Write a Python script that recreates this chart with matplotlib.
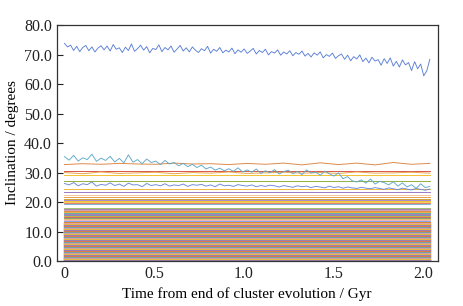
import numpy as np
import matplotlib
matplotlib.use("Agg")
import matplotlib.pyplot as plt

T_END = 2.037

# Noisy high-inclination series
top_line = [73.8,72.6,73.2,71.4,72.8,71.0,72.4,73.1,71.3,72.6,
            70.9,72.2,73.0,71.6,72.9,71.2,73.4,71.8,72.3,70.7,
            72.5,71.4,73.6,71.1,72.0,73.2,71.5,72.7,70.6,72.1,
            71.7,73.3,71.0,72.4,71.6,72.9,70.8,71.9,73.1,71.2,
            72.3,70.9,72.6,71.5,70.7,72.0,71.3,72.8,70.5,71.8,
            71.1,72.4,70.6,71.5,70.9,72.2,70.3,71.6,70.8,71.9,
            70.4,71.2,72.1,70.2,71.4,70.7,71.8,69.9,71.0,70.5,
            71.6,69.8,70.9,70.2,71.3,69.6,70.7,70.1,71.2,69.5,
            70.4,69.2,70.6,69.8,70.9,68.9,70.0,69.4,70.5,68.7,
            69.6,70.2,68.4,69.8,67.9,69.3,68.5,69.9,67.6,68.8,
            67.2,69.1,67.8,68.3,66.4,68.6,67.0,68.9,66.1,67.7,
            65.8,68.2,66.5,67.3,64.6,67.6,65.2,66.8,62.8,64.5,68.4]

second_line = [35.4,34.2,35.8,33.9,35.0,34.4,36.2,33.8,34.9,34.1,35.5,
               33.6,34.8,33.3,36.0,33.5,34.4,33.0,34.6,33.4,33.9,
               32.7,34.1,32.9,33.4,32.3,33.1,32.0,32.8,31.7,32.5,
               31.2,31.9,30.8,31.5,30.6,31.3,30.4,31.6,30.2,30.9,
               30.1,31.2,29.7,30.6,29.9,31.0,29.5,30.3,30.8,29.6,
               30.4,29.3,30.9,29.8,30.2,29.1,30.5,29.6,28.8,29.9,
               27.9,28.6,27.2,26.8,27.5,26.4,27.8,26.1,27.0,26.6,
               25.8,26.9,25.4,26.5,25.1,25.9,24.6,26.2,24.9,25.3]

third_line = [26.3,25.8,26.6,25.5,26.2,25.9,26.8,25.4,26.0,25.7,
              26.5,25.6,26.1,25.3,26.4,25.8,25.9,25.2,26.3,25.6,
              25.9,25.5,26.2,25.4,25.8,25.6,26.1,25.3,25.9,25.7,
              26.0,25.4,25.8,25.2,26.1,25.5,25.7,25.3,25.9,25.6,
              25.4,25.8,25.2,25.6,25.3,25.7,25.5,25.1,25.6,25.3,
              25.0,25.5,25.2,25.4,24.9,25.3,25.1,24.8,25.4,24.9,
              25.2,24.7,25.1,24.8,24.6,25.0,24.7,24.5,24.9,24.6,
              24.3,24.8,24.5,24.2,24.7,24.4,24.1,24.6,24.3,24.0,24.4]

wavy_orange = [32.7,33.0,32.8,33.1,32.9,32.8,33.2,32.9,33.0,32.7,33.1,
               32.8,33.2,32.6,33.3,32.7,33.2,32.6,33.4,32.8,33.1]
wavy_yellow = [30.0,29.6,30.2,29.7,29.9,30.1,29.6,30.0,29.8,30.2,29.7,
               29.9,30.1,29.8,30.0,29.7,30.2,29.8,29.9,30.1,29.8]

# Flat lines: constant inclination levels
upper_levels = [30.6, 29.0, 27.0, 24.3, 23.5, 22.4, 21.6, 21.1, 20.7, 20.2]
upper_colors = ['#d9554a', '#f2c12e', '#8fb040', '#f0b83a', '#9a7ac8',
                '#f3c7a0', '#e8a04a', '#c9a33b', '#a68ad0', '#f2c12e']

mid_levels = [13.4,13.6,13.8,14.4,14.6,14.75,14.9,15.05,15.2,15.35,15.5,
              15.65,15.8,15.95,16.1,16.25,16.4,16.55,16.7,16.85,17.0,
              17.15,17.3,17.5,17.7,17.9,19.3,19.6,19.9]

low_levels = [0.2,0.35,0.5,0.7,0.85,1.0,1.15,1.35,1.5,1.65,1.85,2.0,2.2,
              2.35,2.5,2.7,2.85,3.0,3.2,3.35,3.5,3.7,3.85,4.0,4.2,4.35,
              4.55,4.7,4.9,5.05,5.2,5.4,5.55,5.7,5.9,6.05,6.2,6.4,6.55,
              6.75,6.9,7.05,7.25,7.4,7.6,7.75,7.9,8.1,8.25,8.4,8.6,8.75,
              8.95,9.1,9.25,9.45,9.6,9.8,9.95,10.1,10.3,10.45,10.6,10.8,
              10.95,11.15,11.3,11.45,11.65,11.8,12.0,12.15,12.3,12.5,
              12.65,12.85,13.0,13.2]

palette = ['#e5813b', '#d95550', '#9a72c4', '#5f8ed8', '#f2c12e',
           '#82b04a', '#e79fb2', '#c9a33b', '#57a7c4', '#e8a54a']

x_ticks = [0, 0.5, 1.0, 1.5, 2.0]
x_ticklabels = ['0', '0.5', '1.0', '1.5', '2.0']
y_ticks = [0, 10, 20, 30, 40, 50, 60, 70, 80]

plt.rcParams['font.family'] = ['Liberation Serif', 'DejaVu Serif']

fig = plt.figure(figsize=(4.63, 3.06), dpi=100)
ax = fig.add_axes([0.123, 0.147, 0.822, 0.771])

t_full = [0.0, T_END]
for i, lv in enumerate(low_levels):
    ax.plot(t_full, [lv, lv], color=palette[i % len(palette)], lw=0.9)
for i, lv in enumerate(mid_levels):
    ax.plot(t_full, [lv, lv], color=palette[(i * 3) % len(palette)], lw=0.55)
for lv, c in zip(upper_levels, upper_colors):
    ax.plot(t_full, [lv, lv], color=c, lw=0.7)

def tgrid(series):
    return np.linspace(0.0, T_END, len(series))

ax.plot(tgrid(wavy_yellow), wavy_yellow, color='#eaa64a', lw=0.7)
ax.plot(tgrid(wavy_orange), wavy_orange, color='#de8a4a', lw=0.7)
ax.plot(tgrid(third_line), third_line, color='#6a86d8', lw=0.65)
ax.plot(tgrid(second_line), second_line, color='#5fa8c9', lw=0.65)
ax.plot(tgrid(top_line), top_line, color='#5b7fd6', lw=0.65)

ax.set_xlim(-0.042, 2.08)
ax.set_ylim(0, 80)
ax.set_xticks(x_ticks)
ax.set_xticklabels(x_ticklabels)
ax.set_yticks(y_ticks)
ax.set_yticklabels(['%.1f' % v for v in y_ticks])
ax.tick_params(direction='in', length=4, width=0.8, labelsize=11.5,
               top=False, right=False, colors='#222222')
for s in ax.spines.values():
    s.set_color('#333333')
    s.set_linewidth(0.9)
ax.set_xlabel('Time from end of cluster evolution / Gyr', fontsize=11)
ax.set_ylabel('Inclination / degrees', fontsize=11)

fig.savefig('out.png', dpi=100)
